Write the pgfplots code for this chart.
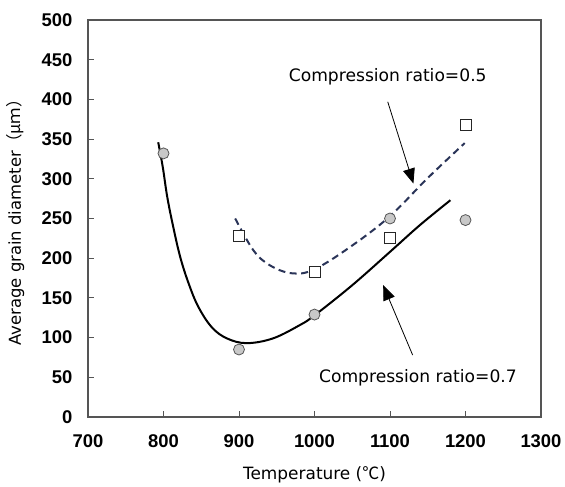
\documentclass[border=0pt]{standalone}
\usepackage{pgfplots}
\pgfplotsset{compat=1.18}
\usepackage{fontspec}
\setmainfont{DejaVu Sans}
\newfontfamily\tickfont{Liberation Sans}
\newfontfamily\cjk{Noto Sans CJK JP}
\usetikzlibrary{arrows.meta}
\definecolor{axgray}{HTML}{555555}
\definecolor{dotgray}{HTML}{C8C8C8}
\definecolor{navy}{HTML}{2A3458}
\begin{document}
\begin{tikzpicture}
\begin{axis}[
  name=ax,
  scale only axis,
  width=453bp, height=397bp,
  xmin=700, xmax=1300, ymin=0, ymax=500,
  xtick={700,800,...,1300}, ytick={0,50,...,500},
  xtick pos=bottom, ytick pos=left,
  tick align=inside,
  major tick length=6bp,
  axis line style={axgray, line width=1.1bp},
  every tick/.style={axgray, line width=1bp},
  /pgf/number format/assume math mode=true,
  /pgf/number format/1000 sep={},
  ticklabel style={font=\tickfont\bfseries\fontsize{18.5}{21}\selectfont},
  yticklabel style={xshift=-12bp},
  xticklabel style={yshift=-14bp},
  xlabel={Temperature ({\cjk ℃})},
  ylabel={Average grain diameter{\cjk （μｍ）}},
  xlabel style={font=\fontsize{17}{20}\selectfont, at={(axis description cs:0.5,-0.146)}, anchor=center},
  ylabel style={font=\fontsize{16.5}{20}\selectfont, at={(axis description cs:-0.160,0.5)}, anchor=center},
  clip=false,
]
% fitted curve, compression ratio 0.7
\addplot[black, line width=2bp, smooth, tension=0.6] coordinates {
  (793,346) (799,315) (805,277) (813,239) (822,202) (833,169) (846,139)
  (864,113) (884,99) (910,93) (945,99) (981,116) (1000,128)
  (1050,166) (1100,208) (1140,242) (1180,273)
};
% fitted curve, compression ratio 0.5
\addplot[navy, line width=2bp, dash pattern=on 7bp off 4.5bp, smooth, tension=0.6] coordinates {
  (895,250) (919,210) (941,191) (970,181) (1000,186)
  (1050,216) (1100,253) (1150,301) (1199,345)
};
% data, ratio 0.7
\addplot[only marks, mark=*, mark size=5.5bp, mark options={fill=dotgray, draw=axgray, line width=0.8bp}] coordinates {
  (800,332) (900,85) (1000,129) (1100,250) (1200,248)
};
% data, ratio 0.5
\addplot[only marks, mark=square*, mark size=5.5bp, mark options={fill=white, draw=black!85, line width=1bp}] coordinates {
  (900,228) (1000,182) (1100,226) (1200,368)
};
\node[font=\fontsize{17.2}{20}\selectfont] at (axis cs:1097,428) {Compression ratio=0.5};
\node[font=\fontsize{17.2}{20}\selectfont] at (axis cs:1137,49) {Compression ratio=0.7};
\draw[black, line width=0.8bp, -{Triangle[length=15bp,width=12bp]}] (axis cs:1097,397) -- (axis cs:1131,294);
\draw[black, line width=0.8bp, -{Triangle[length=15bp,width=12bp]}] (axis cs:1130,78) -- (axis cs:1091,166);
\end{axis}
\path ([shift={(-88bp,-65bp)}]ax.south west) rectangle ([shift={(24bp,20bp)}]ax.north east);
\end{tikzpicture}
\end{document}
